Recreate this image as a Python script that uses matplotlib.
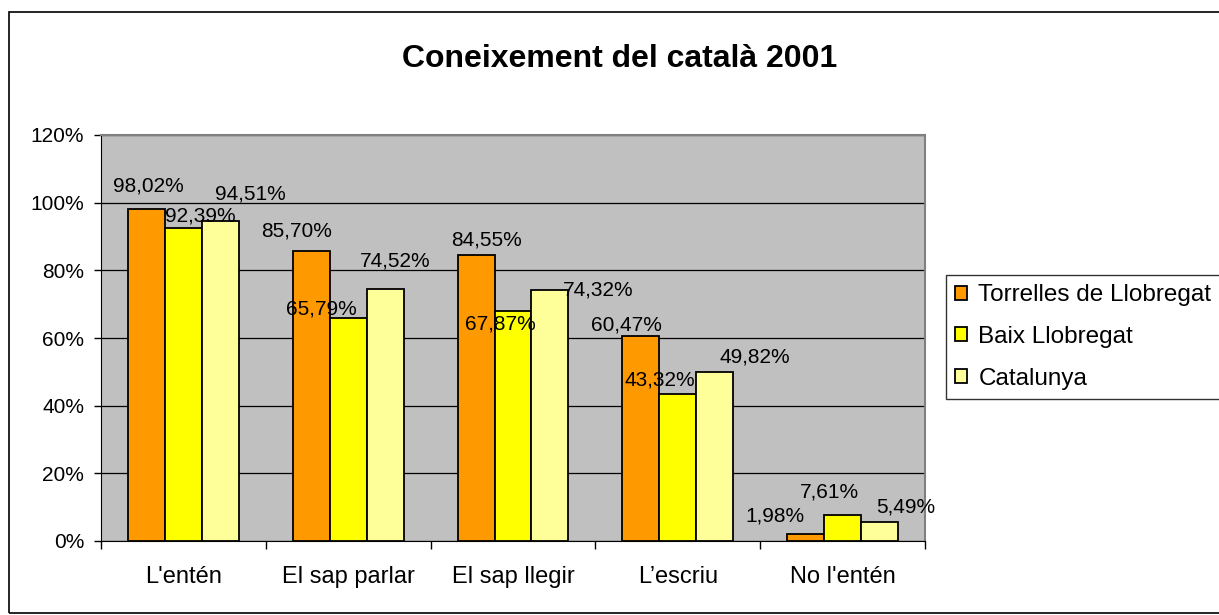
import numpy as np
import matplotlib.pyplot as plt
from matplotlib.patches import Rectangle

plt.rcParams['font.family'] = ['Liberation Sans', 'DejaVu Sans']

categories = ["L'entén", "El sap parlar", "El sap llegir", "L\u2019escriu", "No l'entén"]
series = ["Torrelles de Llobregat", "Baix Llobregat", "Catalunya"]
torrelles = [98.02, 85.70, 84.55, 60.47, 1.98]
baix = [92.39, 65.79, 67.87, 43.32, 7.61]
catalunya = [94.51, 74.52, 74.32, 49.82, 5.49]
colors = ['#FF9900', '#FFFF00', '#FFFF99']

# label nudges (pixels) as placed in the original chart
label_dx = [[2, -15, 10, -14, -31], [17, -27, -13, -18, -13], [30, 10, 48, 40, 26]]
label_dy = [[18, 15, 9, 6, 13], [7, 4, -18, 9, 18], [22, 22, -6, 10, 10]]

fig = plt.figure(figsize=(12.19, 6.15), dpi=100)
ax = fig.add_axes([101/1219, 1-541/615, 824/1219, 406/615])
ax.set_facecolor('#C0C0C0')

x = np.arange(len(categories))
w = 0.2245
for i, (vals, col, name) in enumerate(zip([torrelles, baix, catalunya], colors, series)):
    pos = x + (i - 1) * w
    ax.bar(pos, vals, width=w, color=col, edgecolor='black', linewidth=1.3, label=name, zorder=3)
    for j, (p, v) in enumerate(zip(pos, vals)):
        ax.annotate(f'{v:.2f}%'.replace('.', ','), (p, v),
                    xytext=(label_dx[i][j], label_dy[i][j]), textcoords='offset pixels',
                    ha='center', va='baseline', fontsize=15, zorder=4)

ax.set_xlim(-0.5, len(categories) - 0.5)
ax.set_ylim(0, 120)
ax.set_yticks(range(0, 121, 20))
ax.set_yticklabels([f'{t}%' for t in range(0, 121, 20)], fontsize=15)
ax.yaxis.grid(True, color='black', linewidth=0.9, zorder=1)
ax.set_xticks(np.arange(-0.5, len(categories), 1))
ax.set_xticklabels([])
ax.set_xticks(x, minor=True)
ax.set_xticklabels(categories, minor=True, fontsize=17)
ax.tick_params(axis='x', which='minor', length=0, pad=18)
ax.tick_params(axis='x', which='major', length=6, width=1)
ax.tick_params(axis='y', length=5, width=1, pad=7)
for s in ['top', 'right']:
    ax.spines[s].set_color('#808080')
    ax.spines[s].set_linewidth(1.5)
for s in ['left', 'bottom']:
    ax.spines[s].set_color('black')

fig.text(620/1219, 1-67/615, 'Coneixement del català 2001', ha='center', va='baseline',
         fontsize=23, fontweight='bold')

leg = ax.legend(loc='upper left', bbox_to_anchor=(946/1219, 1-275/615),
                bbox_transform=fig.transFigure, fontsize=17.5, frameon=True, fancybox=False,
                handlelength=0.5, handleheight=0.5, handletextpad=0.45, labelspacing=0.81,
                borderpad=0.38, borderaxespad=0)
leg.get_frame().set_edgecolor('black')
leg.get_frame().set_linewidth(1)

fig.patches.append(Rectangle((9/1219, 2/615), 1.0, 1-14/615, transform=fig.transFigure,
                             fill=False, edgecolor='black', linewidth=1.2))

fig.savefig('out.png', dpi=100)
